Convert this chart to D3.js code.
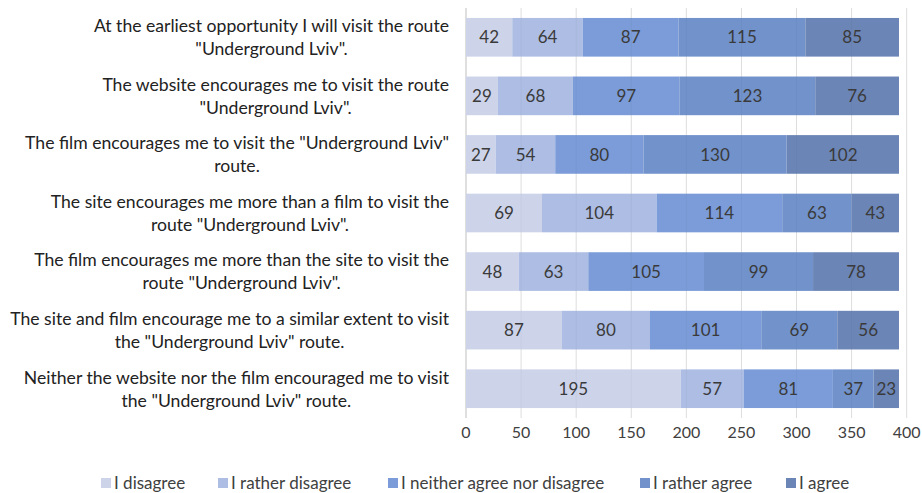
<!DOCTYPE html>
<html>
<head>
<meta charset="utf-8">
<script src="https://cdn.jsdelivr.net/npm/d3@7"></script>
<style>
  body { margin: 0; background: #fff; }
  svg { font-family: Lato, "Open Sans", sans-serif; }
</style>
</head>
<body>
<div id="chart"></div>
<script>
const statements = [
  ['At the earliest opportunity I will visit the route', '"Underground Lviv".'],
  ['The website encourages me to visit the route', '"Underground Lviv".'],
  ['The film encourages me to visit the "Underground Lviv"', 'route.'],
  ['The site encourages me more than a film to visit the', 'route "Underground Lviv".'],
  ['The film encourages me more than the site to visit the', 'route "Underground Lviv".'],
  ['The site and film encourage me to a similar extent to visit', 'the "Underground Lviv" route.'],
  ['Neither the website nor the film encouraged me to visit', 'the "Underground Lviv" route.']
];
const seriesNames = ['I disagree', 'I rather disagree', 'I neither agree nor disagree', 'I rather agree', 'I agree'];
const disagree       = [42, 29, 27, 69, 48, 87, 195];
const ratherDisagree = [64, 68, 54, 104, 63, 80, 57];
const neither        = [87, 97, 80, 114, 105, 101, 81];
const ratherAgree    = [115, 123, 130, 63, 99, 69, 37];
const agree          = [85, 76, 102, 43, 78, 56, 23];
const xTicks = [0, 50, 100, 150, 200, 250, 300, 350, 400];
const colors = ['#cdd4ea', '#adbde3', '#7b9cd8', '#7192cb', '#6b85b6'];

const width = 922, height = 493;
const svg = d3.select('#chart').append('svg').attr('width', width).attr('height', height);

const rows = statements.map((s, i) => ({
  key: i, lines: s,
  v0: disagree[i], v1: ratherDisagree[i], v2: neither[i], v3: ratherAgree[i], v4: agree[i]
}));
const keys = ['v0', 'v1', 'v2', 'v3', 'v4'];
const stacked = d3.stack().keys(keys)(rows);

const x = d3.scaleLinear().domain([0, 400]).range([466, 906.7]);
const y = d3.scaleBand().domain(rows.map(d => d.key)).range([8, 418]).paddingInner(0.34).paddingOuter(0.17);

// gridlines
svg.append('g')
  .selectAll('line')
  .data(xTicks)
  .join('line')
  .attr('x1', d => x(d)).attr('x2', d => x(d))
  .attr('y1', 8).attr('y2', 418)
  .attr('stroke', d => d === 0 ? '#bfbfbf' : '#e4e4e4')
  .attr('stroke-width', 1);

// bars
const layers = svg.append('g').selectAll('g')
  .data(stacked)
  .join('g')
  .attr('fill', (d, i) => colors[i]);

layers.selectAll('rect')
  .data(d => d)
  .join('rect')
  .attr('x', d => x(d[0]))
  .attr('y', d => y(d.data.key))
  .attr('width', d => x(d[1]) - x(d[0]))
  .attr('height', y.bandwidth());

// faint gridlines showing through
svg.append('g')
  .selectAll('line')
  .data(xTicks.slice(1))
  .join('line')
  .attr('x1', d => x(d)).attr('x2', d => x(d))
  .attr('y1', 8).attr('y2', 418)
  .attr('stroke', '#000')
  .attr('stroke-opacity', 0.03);

// value labels
layers.selectAll('text')
  .data(d => d)
  .join('text')
  .attr('x', d => (x(d[0]) + x(d[1])) / 2)
  .attr('y', d => y(d.data.key) + y.bandwidth() / 2)
  .attr('dy', '0.36em')
  .attr('text-anchor', 'middle')
  .attr('fill', '#3a3a3a')
  .style('font-size', '17px')
  .text(d => d[1] - d[0]);

// x tick labels
svg.append('g')
  .selectAll('text')
  .data(xTicks)
  .join('text')
  .attr('x', d => x(d))
  .attr('y', 432)
  .attr('dy', '0.36em')
  .attr('text-anchor', 'middle')
  .attr('fill', '#404040')
  .style('font-size', '16px')
  .text(d => d);

// category labels: block right-aligned, lines centred on each other
const labelRight = 449;
const labels = svg.append('g').selectAll('g')
  .data(rows)
  .join('g');

labels.each(function (d) {
  const g = d3.select(this);
  const cy = y(d.key) + y.bandwidth() / 2;
  const texts = d.lines.map((line, j) => g.append('text')
    .attr('y', cy + (j === 0 ? -11.5 : 11.5))
    .attr('dy', '0.36em')
    .attr('text-anchor', 'middle')
    .attr('fill', '#222')
    .style('font-size', '17.6px')
    .text(line));
  const maxW = d3.max(texts, t => t.node().getComputedTextLength());
  texts.forEach(t => t.attr('x', labelRight - maxW / 2));
});

// legend
const legendX = [101, 218, 388, 640, 786];
const legend = svg.append('g').selectAll('g')
  .data(seriesNames)
  .join('g')
  .attr('transform', (d, i) => `translate(${legendX[i]}, 483)`);

legend.append('rect')
  .attr('x', 0).attr('y', -5)
  .attr('width', 10).attr('height', 10)
  .attr('fill', (d, i) => colors[i]);

legend.append('text')
  .attr('x', 13)
  .attr('dy', '0.36em')
  .attr('fill', '#404040')
  .style('font-size', '17px')
  .text(d => d);
</script>
</body>
</html>
